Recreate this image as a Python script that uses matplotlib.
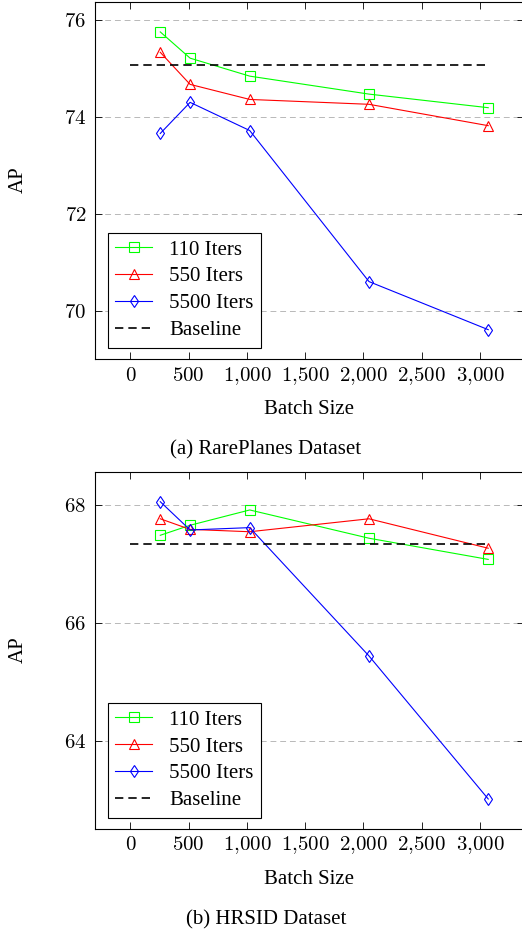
import matplotlib
matplotlib.use("Agg")
import matplotlib.pyplot as plt
from matplotlib.ticker import FuncFormatter

plt.rcParams["font.family"] = ["Liberation Serif", "DejaVu Serif"]
plt.rcParams["mathtext.fontset"] = "cm"

# batch sizes shared by both panels
batch = [256, 512, 1024, 2048, 3072]
base_x = [0, 3072]

# (a) RarePlanes
rp_110 = [75.75, 75.21, 74.84, 74.47, 74.19]
rp_550 = [75.33, 74.67, 74.36, 74.26, 73.82]
rp_5500 = [73.66, 74.30, 73.72, 70.61, 69.62]
rp_base = 75.07

# (b) HRSID
hr_110 = [67.49, 67.66, 67.92, 67.44, 67.08]
hr_550 = [67.77, 67.59, 67.55, 67.77, 67.27]
hr_5500 = [68.06, 67.58, 67.62, 65.44, 63.01]
hr_base = 67.35

xticks = [0, 500, 1000, 1500, 2000, 2500, 3000]
rp_yticks = [70, 72, 74, 76]
hr_yticks = [64, 66, 68]

FS = 15
W, H = 522, 934
fig = plt.figure(figsize=(W / 100, H / 100), dpi=100)


def panel(rect, s110, s550, s5500, base, yticks, ylim, leg_y):
    ax = fig.add_axes(rect)
    kw = dict(lw=0.8, ms=6.5, mfc="none", mew=0.8)
    ax.plot(batch, s110, color="#00ff00", marker="s", label="110 Iters", **kw)
    ax.plot(batch, s550, color="#ff0000", marker="^", label="550 Iters", **kw)
    ax.plot(batch, s5500, color="#0000ff", marker="d", label="5500 Iters", **kw)
    ax.plot(base_x, [base, base], color="black", ls=(0, (5, 3)), lw=1.2, label="Baseline")
    ax.set_xlim(-307.2, 3379.2)
    ax.set_ylim(*ylim)
    ax.set_xticks(xticks)
    ax.set_yticks(yticks)
    ax.xaxis.set_major_formatter(FuncFormatter(lambda v, p: "$" + f"{int(v):,}".replace(",", "{,}") + "$"))
    ax.yaxis.set_major_formatter(FuncFormatter(lambda v, p: f"${int(v)}$"))
    ax.tick_params(direction="in", length=5, width=0.6, top=True, right=True, labelsize=FS, pad=6)
    ax.tick_params(axis="x", pad=15.4)
    plt.setp(ax.get_xticklabels(), va="baseline")
    ax.grid(axis="y", color="#b8b8b8", ls=(0, (6, 4)), lw=0.7)
    ax.set_axisbelow(True)
    for s in ax.spines.values():
        s.set_linewidth(0.8)
    leg = ax.legend(loc="lower left", bbox_to_anchor=(0.03, leg_y), fontsize=FS, fancybox=False,
                    edgecolor="black", framealpha=1, handlelength=1.8, labelspacing=0.35,
                    borderpad=0.35, handletextpad=0.8, borderaxespad=0)
    leg.get_frame().set_linewidth(0.8)
    return ax


panel([94.7 / W, 1 - 359.3 / H, (524 - 94.7) / W, (359.3 - 2.3) / H],
      rp_110, rp_550, rp_5500, rp_base, rp_yticks, (69.01, 76.36), 0.033)
panel([94.7 / W, 1 - 829 / H, (524 - 94.7) / W, (829 - 471.7) / H],
      hr_110, hr_550, hr_5500, hr_base, hr_yticks, (62.5, 68.57), 0.032)

fig.text(18 / W, 1 - 180 / H, "AP", rotation=90, ha="center", va="center", fontsize=FS)
fig.text(18 / W, 1 - 650 / H, "AP", rotation=90, ha="center", va="center", fontsize=FS)
fig.text(309 / W, 1 - 410 / H, "Batch Size", ha="center", va="center", fontsize=FS)
fig.text(309 / W, 1 - 879 / H, "Batch Size", ha="center", va="center", fontsize=FS)
fig.text(266 / W, 1 - 450 / H, "(a) RarePlanes Dataset", ha="center", va="center", fontsize=FS)
fig.text(266 / W, 1 - 920 / H, "(b) HRSID Dataset", ha="center", va="center", fontsize=FS)

fig.savefig("out.png", dpi=100)
